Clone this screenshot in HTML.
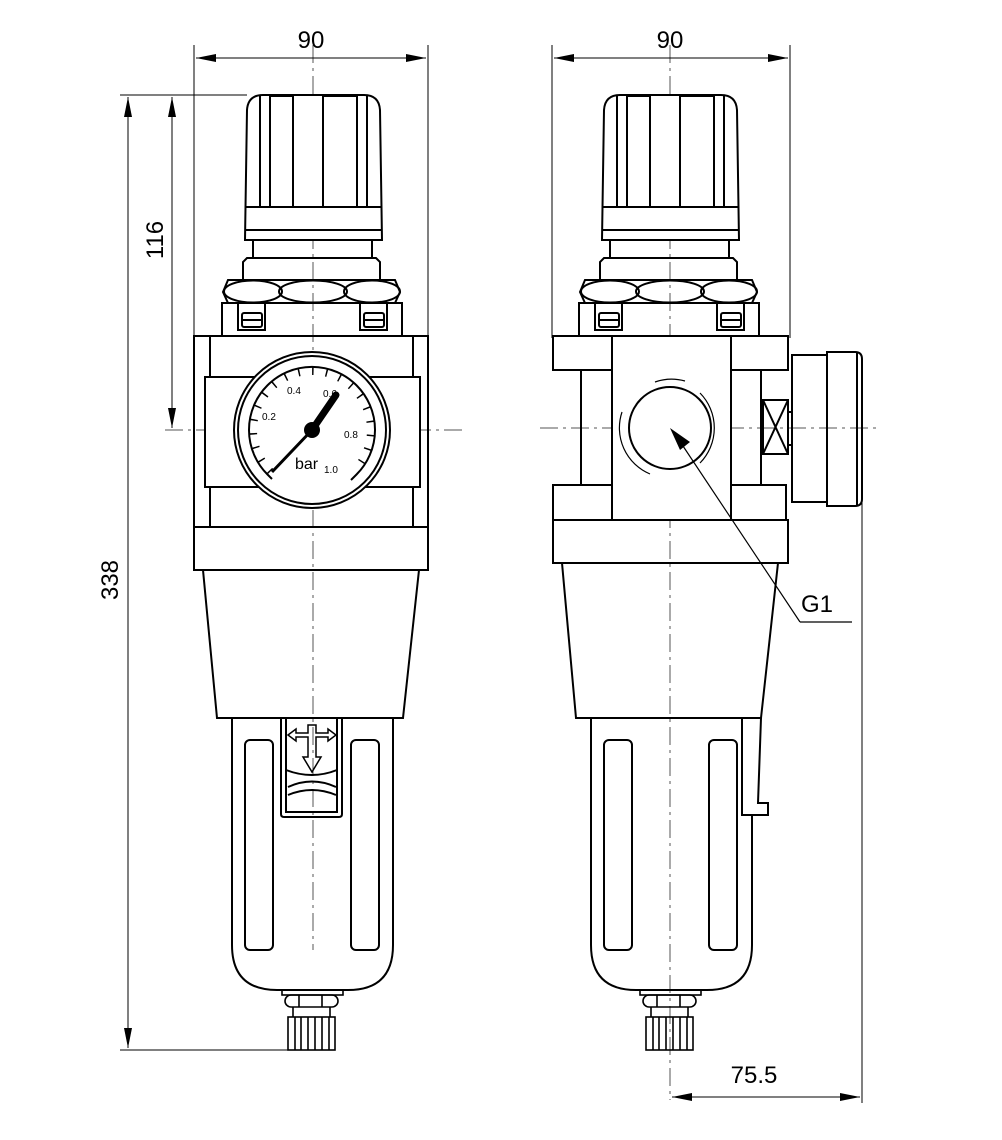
<!DOCTYPE html>
<html><head><meta charset="utf-8"><style>
html,body{margin:0;padding:0;background:#fff}
svg{display:block}
text{font-family:"Liberation Sans",sans-serif;fill:#000}
</style></head><body>
<svg width="1002" height="1140" viewBox="0 0 1002 1140" xmlns="http://www.w3.org/2000/svg">
<defs>
<marker id="ar" viewBox="0 0 20 8" refX="20" refY="4" markerWidth="20" markerHeight="8" orient="auto-start-reverse" markerUnits="userSpaceOnUse"><path d="M0,0 L20,4 L0,8 Z" fill="#000"/></marker>
<g id="knob" fill="none" stroke="#000" stroke-width="2">
 <path d="M245,240 L247,110 Q248,95 263,95 L364,95 Q379,95 380,110 L382,240 Z" fill="#fff"/>
 <line x1="245" y1="207" x2="382" y2="207"/>
 <line x1="245" y1="230" x2="382" y2="230"/>
 <path d="M260,96 L260,207 M367,96 L367,207"/>
 <rect x="270" y="96" width="23" height="111"/>
 <rect x="323" y="96" width="34" height="111"/>
 <rect x="253" y="240" width="119" height="18"/>
 <path d="M243,280 L243,262 L247,258 L376,258 L380,262 L380,280"/>
 <path d="M223,292 L228,280 L395,280 L400,292 L395,303 L228,303 Z"/>
 <ellipse cx="253" cy="291.5" rx="29" ry="11"/>
 <ellipse cx="313" cy="291.5" rx="34" ry="11"/>
 <ellipse cx="372" cy="291.5" rx="28" ry="11"/>
 <rect x="222" y="303" width="180" height="33"/>
 <path d="M238,303 L238,330 L265,330 L265,303 M360,303 L360,330 L387,330 L387,303"/>
 <rect x="242" y="313" width="20" height="14" rx="2"/>
 <rect x="364" y="313" width="20" height="14" rx="2"/>
 <line x1="242" y1="320" x2="262" y2="320"/><line x1="364" y1="320" x2="384" y2="320"/>
</g>
<g id="drain" fill="none" stroke="#000" stroke-width="1.6">
 <rect x="282" y="990" width="61" height="5"/>
 <rect x="285" y="995" width="53" height="12" rx="6"/>
 <path d="M299,995 L299,1007 M322,995 L322,1007"/>
 <path d="M293,1007 L293,1017 M330,1007 L330,1017"/>
 <rect x="288" y="1017" width="47" height="33"/>
 <path d="M295,1017 V1050 M301,1017 V1050 M308,1017 V1050 M315,1017 V1050 M322,1017 V1050 M329,1017 V1050"/>
</g>
</defs>

<g stroke="#555" stroke-width="1" stroke-dasharray="18,5,3,5" fill="none">
 <line x1="313" y1="45" x2="313" y2="950"/>
 <line x1="165" y1="430" x2="462" y2="430"/>
 <line x1="670" y1="45" x2="670" y2="1100"/>
 <line x1="540" y1="428" x2="880" y2="428"/>
</g>

<g stroke="#000" stroke-width="1" fill="none">
 <line x1="194" y1="45" x2="194" y2="338"/>
 <line x1="428" y1="45" x2="428" y2="338"/>
 <line x1="196" y1="58" x2="426" y2="58" marker-start="url(#ar)" marker-end="url(#ar)"/>
 <line x1="120" y1="95" x2="247" y2="95"/>
 <line x1="120" y1="1050" x2="290" y2="1050"/>
 <line x1="172" y1="97" x2="172" y2="428" marker-start="url(#ar)" marker-end="url(#ar)"/>
 <line x1="128" y1="97" x2="128" y2="1048" marker-start="url(#ar)" marker-end="url(#ar)"/>
 <line x1="552" y1="45" x2="552" y2="338"/>
 <line x1="790" y1="45" x2="790" y2="338"/>
 <line x1="554" y1="58" x2="788" y2="58" marker-start="url(#ar)" marker-end="url(#ar)"/>
 <line x1="862" y1="500" x2="862" y2="1103"/>
 <line x1="672" y1="1097" x2="860" y2="1097" marker-start="url(#ar)" marker-end="url(#ar)"/>
</g>
<text x="311" y="48" font-size="24" text-anchor="middle">90</text>
<text x="670" y="48" font-size="24" text-anchor="middle">90</text>
<text x="0" y="0" font-size="24" text-anchor="middle" transform="translate(163,240) rotate(-90)">116</text>
<text x="0" y="0" font-size="24" text-anchor="middle" transform="translate(118,580) rotate(-90)">338</text>
<text x="754" y="1083" font-size="24" text-anchor="middle">75.5</text>

<use href="#knob"/>
<g fill="none" stroke="#000" stroke-width="2">
 <rect x="194" y="336" width="234" height="191"/>
 <line x1="210" y1="336" x2="210" y2="527"/>
 <line x1="413" y1="336" x2="413" y2="527"/>
 <rect x="205" y="377" width="215" height="110" fill="#fff"/>
 <rect x="194" y="527" width="234" height="43"/>
 <path d="M203,570 L217,718 L403,718 L419,570"/>
 <path d="M232,718 L232,945 Q232,990 277,990 L348,990 Q393,990 393,945 L393,718"/>
 <rect x="245" y="740" width="28" height="210" rx="5"/>
 <rect x="351" y="740" width="28" height="210" rx="5"/>
 <path d="M281,718 L281,814 Q281,817 284,817 L339,817 Q342,817 342,814 L342,718"/>
 <path d="M286,718 L286,812 L337,812 L337,718"/>
 <path d="M286,770 Q312,780 337,770 M288,787 Q312,776 336,787 M288,795 Q312,785 336,795"/>
 <path d="M288,735 L296,729 L296,733 L308,733 L308,725 L316,725 L316,733 L328,733 L328,729 L336,735 L328,741 L328,737 L316,737 L316,757 L321,757 L312,772 L303,757 L308,757 L308,737 L296,737 L296,741 Z" stroke-width="1.5"/>
 <circle cx="312" cy="430" r="78" fill="#fff"/>
 <circle cx="312" cy="430" r="74"/>
 <path d="M267.5,474.5 A63,63 0 1 1 356.5,474.5 L351,480 M267.5,474.5 L272,479"/>
 <path d="M270.3,471.7 A59,59 0 1 1 353.7,471.7" stroke-width="8" stroke-dasharray="1.5,12.4"/>
</g>
<line x1="272" y1="472" x2="312" y2="430" stroke="#000" stroke-width="3"/>
<line x1="312" y1="430" x2="336" y2="395" stroke="#000" stroke-width="7" stroke-linecap="round"/>
<circle cx="312" cy="430" r="8" fill="#000"/>
<g font-size="10">
 <text x="262" y="420">0.2</text><text x="287" y="394">0.4</text><text x="323" y="397">0.6</text>
 <text x="344" y="438">0.8</text><text x="324" y="473">1.0</text>
</g>
<text x="295" y="469" font-size="16">bar</text>

<use href="#knob" transform="translate(357,0)"/>
<g fill="none" stroke="#000" stroke-width="2">
 <rect x="553" y="336" width="235" height="34"/>
 <rect x="612" y="336" width="119" height="184" fill="#fff"/>
 <line x1="581" y1="370" x2="581" y2="485"/>
 <line x1="761" y1="370" x2="761" y2="485"/>
 <path d="M612,485 L553,485 L553,520 L786,520 L786,485 L731,485"/>
 <rect x="553" y="520" width="235" height="43"/>
 <circle cx="670" cy="428" r="41"/>
 <path d="M700,393 A50,50 0 0 1 700,463" stroke-width="1.2"/>
 <path d="M655,382 A50,50 0 0 1 685,381" stroke-width="1.2"/>
 <path d="M622,412 A50,50 0 0 0 650,474" stroke-width="1.2"/>
 <rect x="763" y="400" width="25" height="54"/>
 <path d="M763,400 L788,454 M788,400 L763,454"/>
 <rect x="788" y="412" width="4" height="33"/>
 <rect x="792" y="355" width="35" height="147"/>
 <path d="M827,352 L855,352 Q862,352 862,359 L862,499 Q862,506 855,506 L827,506 Z"/>
 <line x1="857" y1="353" x2="857" y2="505"/>
 <path d="M562,563 L576,718 L761,718 L778,563"/>
 <path d="M591,718 L591,945 Q591,990 636,990 L707,990 Q752,990 752,945 L752,815"/>
 <path d="M742,718 L742,815 L768,815 L768,803 L758,803 L761,718"/>
 <rect x="604" y="740" width="28" height="210" rx="5"/>
 <rect x="709" y="740" width="28" height="210" rx="5"/>
</g>
<use href="#drain"/>
<use href="#drain" transform="translate(358,0)"/>
<line x1="800" y1="622" x2="677" y2="437" stroke="#000" stroke-width="1.2"/>
<path d="M670,428 L690,442 L680,450 Z" fill="#000"/>
<line x1="800" y1="622" x2="852" y2="622" stroke="#000" stroke-width="1.2"/>
<text x="801" y="612" font-size="24">G1</text>
</svg>
</body></html>
